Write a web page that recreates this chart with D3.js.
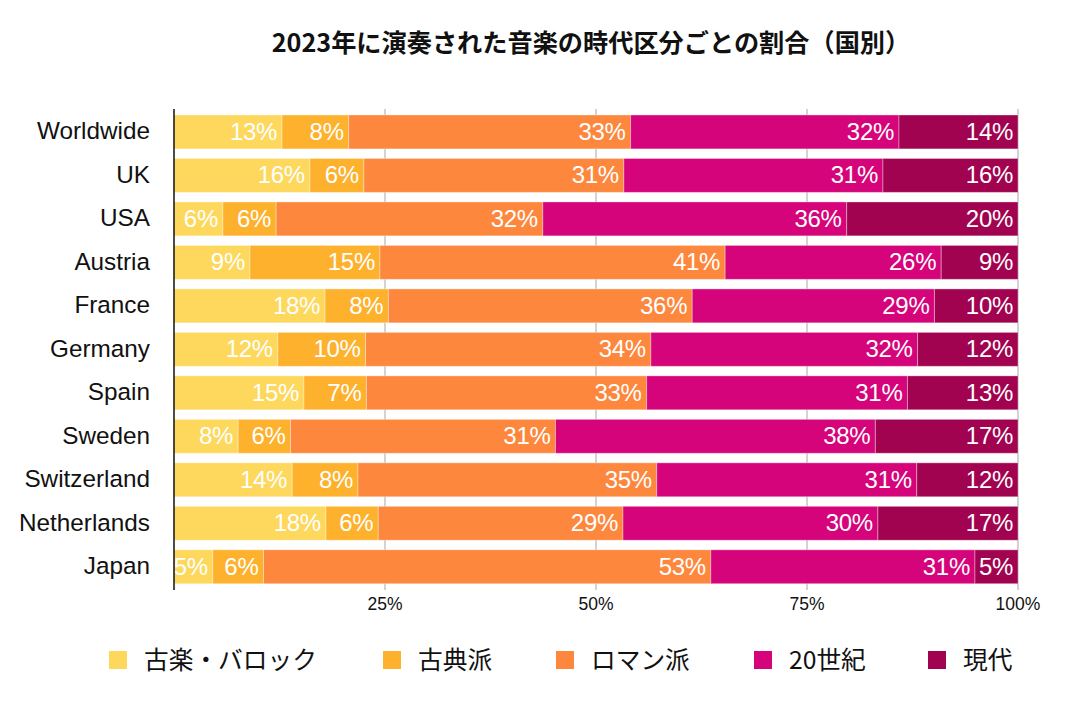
<!DOCTYPE html>
<html><head><meta charset="utf-8">
<script src="https://cdn.jsdelivr.net/npm/d3@7"></script>
<style>
body{margin:0;background:#fff;}
svg{display:block;}
</style></head>
<body><svg id="c" width="1085" height="705"></svg>
<script>
const categories = ["Worldwide","UK","USA","Austria","France","Germany","Spain","Sweden","Switzerland","Netherlands","Japan"];
const seriesNames = ["古楽・バロック","古典派","ロマン派","20世紀","現代"];
const earlyBaroque = [12.8,16.1,5.8,9.0,17.9,12.3,15.4,7.6,14.0,18.0,4.6];
const classical    = [7.9,6.4,6.3,15.4,7.5,10.4,7.4,6.2,7.8,6.2,6.0];
const romantic     = [33.4,30.8,31.6,40.9,36.0,33.8,33.2,31.4,35.4,29.0,53.0];
const century20    = [31.8,30.7,36.0,25.6,28.7,31.6,30.9,37.9,30.8,30.2,31.3];
const contemporary = [14.1,16.0,20.3,9.1,9.9,11.9,13.1,16.9,12.0,16.6,5.1];
const colors = ["#FDD85D","#FDB12D","#FD873D","#D5047A","#A10350"];
const xTicks = [0.25,0.5,0.75,1.0];
const tickLabels = ["25%","50%","75%","100%"];
const title = "2023年に演奏された音楽の時代区分ごとの割合（国別）";

const seriesValues = [earlyBaroque, classical, romantic, century20, contemporary];
const rows = categories.map((c,i)=>{
  const o = {cat:c};
  seriesNames.forEach((s,j)=>o[s]=seriesValues[j][i]);
  return o;
});
const stacked = d3.stack().keys(seriesNames).offset(d3.stackOffsetExpand)(rows);

const svg = d3.select("#c");
const font = "'Liberation Sans','Noto Sans CJK JP',Arial,sans-serif";
const plotLeft = 174, plotRight = 1018, plotTop = 109, plotBottom = 590;

const x = d3.scaleLinear().domain([0,1]).range([plotLeft,plotRight]);
const y = d3.scaleBand().domain(categories).range([110.2,588.5]).paddingInner(0.22).paddingOuter(0.11);

svg.append("text").attr("x",591).attr("y",52).attr("text-anchor","middle")
  .attr("font-family","'Noto Sans CJK JP',sans-serif").attr("font-weight","bold")
  .attr("font-size",25.2).attr("fill","#111").text(title);

// gridlines
svg.append("g").selectAll("line").data(xTicks).join("line")
  .attr("x1",d=>x(d)).attr("x2",d=>x(d)).attr("y1",plotTop).attr("y2",plotBottom)
  .attr("stroke","#c4c4c4").attr("stroke-width",1.5);

// bars
const g = svg.append("g");
stacked.forEach((layer,j)=>{
  const lg = g.append("g");
  lg.selectAll("rect").data(layer).join("rect")
    .attr("x",d=>x(d[0])).attr("width",d=>x(d[1])-x(d[0]))
    .attr("y",d=>y(d.data.cat)).attr("height",y.bandwidth())
    .attr("fill",colors[j]).attr("stroke","rgba(255,255,255,0.35)").attr("stroke-width",1);
  lg.selectAll("text").data(layer).join("text")
    .attr("x",d=>x(d[1])-5).attr("y",d=>y(d.data.cat)+y.bandwidth()/2+8)
    .attr("text-anchor","end").attr("fill","#fff")
    .attr("font-family",font).attr("font-size",24).attr("letter-spacing",-0.3)
    .text(d=>Math.round(d.data[seriesNames[j]])+"%");
});

// axis line
svg.append("line").attr("x1",plotLeft).attr("x2",plotLeft).attr("y1",plotTop).attr("y2",plotBottom)
  .attr("stroke","#111").attr("stroke-width",1.5);

// category labels
svg.append("g").selectAll("text").data(categories).join("text")
  .attr("x",150).attr("y",d=>y(d)+y.bandwidth()/2+7.5)
  .attr("text-anchor","end").attr("font-family",font).attr("font-size",24.3).attr("fill","#111")
  .text(d=>d);

// x tick labels
svg.append("g").selectAll("text").data(xTicks).join("text")
  .attr("x",d=>x(d)).attr("y",609.5).attr("text-anchor","middle")
  .attr("font-family",font).attr("font-size",17.5).attr("fill","#111")
  .text((d,i)=>tickLabels[i]);

// legend
const legX = [109,383,556,754,928];
const legG = svg.append("g").selectAll("g").data(seriesNames).join("g")
  .attr("transform",(d,i)=>`translate(${legX[i]},651)`);
legG.append("rect").attr("width",18).attr("height",18).attr("fill",(d,i)=>colors[i]);
legG.append("text").attr("x",35).attr("y",18).attr("font-family","'Noto Sans CJK JP',sans-serif")
  .attr("font-size",24.7).attr("fill","#111").text(d=>d);
</script></body></html>
